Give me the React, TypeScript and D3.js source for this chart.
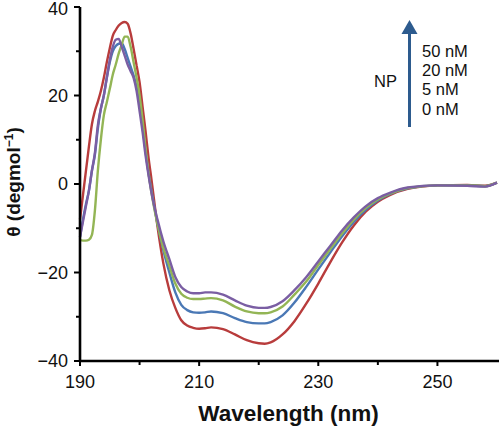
import React from "react";
import * as d3 from "d3";

const wavelength = [190, 190.5, 191, 191.5, 192, 192.5, 193, 193.5, 194, 194.5, 195, 195.5, 196, 196.5, 197, 197.5, 198, 198.5, 199, 199.5, 200, 200.5, 201, 201.5, 202, 203, 204, 205, 206, 207, 208, 209, 210, 211, 212, 214, 216, 218, 220, 221, 222, 224, 226, 228, 230, 232, 234, 236, 238, 240, 242, 245, 250, 255, 258, 260];

const np0 = [-8, -2.5, 3, 8.5, 13.5, 16.5, 18.6, 21, 24, 27.5, 30.7, 33.5, 34.8, 35.8, 36.4, 36.6, 36.2, 34, 30.5, 26.8, 23, 17.5, 12, 6, 1, -9.5, -18, -24, -28, -30.8, -32, -32.5, -32.7, -32.6, -32.4, -32.8, -34, -35.3, -36, -36.1, -35.8, -34, -31, -27, -22.5, -17.7, -13.2, -9.3, -6.2, -4, -2.5, -1.1, -0.3, -0.2, -0.4, 0.3];
const np5 = [-12, -8, -4.5, -1.5, 3, 6.6, 12.5, 17, 20, 24, 27.5, 30, 31.2, 31.7, 31.8, 30.5, 28.5, 26.5, 24.5, 22, 18.5, 13, 7.5, 2.5, -1.5, -9, -15, -20, -24.5, -27.3, -28.5, -29, -29.1, -29, -28.8, -29.2, -30.3, -31.2, -31.5, -31.5, -31.2, -29.7, -26.8, -23.2, -19.3, -15.5, -11.8, -8.5, -5.8, -3.7, -2.3, -1, -0.3, -0.3, -0.5, 0.3];
const np20 = [-12.7, -12.8, -12.8, -12.6, -11.5, -6, 3, 10, 15.5, 18.5, 21.5, 24.7, 27, 29.5, 31.5, 33.3, 33.3, 31, 27.5, 24, 20, 14.5, 8, 2.5, -2, -9, -14.5, -18.5, -22.5, -24.8, -25.7, -26, -26, -25.9, -25.8, -26.3, -27.7, -28.8, -29.2, -29.2, -29, -27.7, -25, -22, -18.3, -14.7, -11.2, -8, -5.4, -3.5, -2.2, -0.9, -0.3, -0.3, -0.5, 0.3];
const np50 = [-12, -8.5, -5, -1.5, 3, 7, 13.3, 17, 20, 24, 28, 31, 32.6, 32.8, 31, 29, 27, 25.5, 24, 21, 16.5, 11.8, 6.5, 2, -2, -8, -13, -17, -21, -23.3, -24.3, -24.7, -24.7, -24.5, -24.5, -25, -26.3, -27.5, -28, -28, -27.8, -26.5, -24, -21, -17.5, -14, -10.5, -7.5, -5, -3.2, -2, -0.8, -0.3, -0.4, -0.6, 0.3];

const seriesNames = ["0 nM", "5 nM", "20 nM", "50 nM"];
const seriesValues = [np0, np5, np20, np50];
const seriesColors = ["#b83c3c", "#4a78b5", "#93b555", "#7a5ea3"];

const xMajorTicks = [190, 210, 230, 250];
const xMinorTicks = [200, 220, 240];
const yMajorTicks = [-40, -20, 0, 20, 40];
const yMinorTicks = [-30, -10, 10, 30];
const legendLabels = ["50 nM", "20 nM", "5 nM", "0 nM"];

const W = 500;
const H = 427;
const left = 80;
const right = 497;
const top = 7;
const bottom = 361;
const FONT = "'Liberation Sans', Arial, sans-serif";

export default function App() {
  const x = d3.scaleLinear().domain([190, 260]).range([left, right]);
  const y = d3.scaleLinear().domain([-40, 40]).range([bottom, top]);
  const line = d3
    .line<number>()
    .x((_, i) => x(wavelength[i]))
    .y((v) => y(v))
    .curve(d3.curveMonotoneX);

  return (
    <svg
      width={W}
      height={H}
      style={{ position: "absolute", left: 0, top: 0, background: "#fff" }}
      fontFamily={FONT}
    >
      {seriesValues.map((vals, i) => (
        <path
          key={seriesNames[i]}
          d={line(vals) || ""}
          fill="none"
          stroke={seriesColors[i]}
          strokeWidth={2.4}
          strokeLinejoin="round"
        />
      ))}

      {/* axes */}
      <line x1={left} x2={left} y1={top} y2={bottom + 1} stroke="#000" strokeWidth={2.6} />
      <line x1={left - 1} x2={W - 1} y1={bottom} y2={bottom} stroke="#000" strokeWidth={2.6} />

      {yMajorTicks.map((t) => (
        <g key={"ym" + t}>
          <line x1={left - 6} x2={left} y1={y(t)} y2={y(t)} stroke="#000" strokeWidth={2} />
          <text x={left - 12} y={y(t)} dy={t === 40 ? "0.42em" : "0.35em"} textAnchor="end" fontSize={18} fill="#111">
            {t < 0 ? "\u2212" + Math.abs(t) : t}
          </text>
        </g>
      ))}
      {yMinorTicks.map((t) => (
        <line key={"yn" + t} x1={left - 4} x2={left} y1={y(t)} y2={y(t)} stroke="#000" strokeWidth={2} />
      ))}
      {xMajorTicks.map((t) => (
        <g key={"xm" + t}>
          <line x1={x(t)} x2={x(t)} y1={bottom} y2={bottom + 5} stroke="#000" strokeWidth={2} />
          <text x={x(t)} y={388} textAnchor="middle" fontSize={18} fill="#111">
            {t}
          </text>
        </g>
      ))}
      {xMinorTicks.map((t) => (
        <line key={"xn" + t} x1={x(t)} x2={x(t)} y1={bottom} y2={bottom + 4} stroke="#000" strokeWidth={2} />
      ))}

      <text
        x={(left + right) / 2}
        y={421}
        textAnchor="middle"
        fontSize={22.5}
        fontWeight="bold"
        fill="#111"
      >
        Wavelength (nm)
      </text>
      <text
        transform={`translate(20, ${(top + bottom) / 2 - 2}) rotate(-90)`}
        textAnchor="middle"
        fontSize={19}
        fontWeight="bold"
        fill="#111"
      >
        θ (degmol<tspan dy="-7" fontSize={12}>−1</tspan>
        <tspan dy="7">)</tspan>
      </text>

      {/* arrow legend */}
      <line x1={409.5} x2={409.5} y1={127} y2={32} stroke="#2d5b8e" strokeWidth={3} />
      <polygon points="401.5,34 417.5,34 409.5,20" fill="#2d5b8e" />
      <text x={374} y={87} fontSize={16.5} fill="#111">
        NP
      </text>
      {legendLabels.map((l, i) => (
        <text key={l} x={422} y={57 + i * 19.2} fontSize={16.5} fill="#111">
          {l}
        </text>
      ))}
    </svg>
  );
}
